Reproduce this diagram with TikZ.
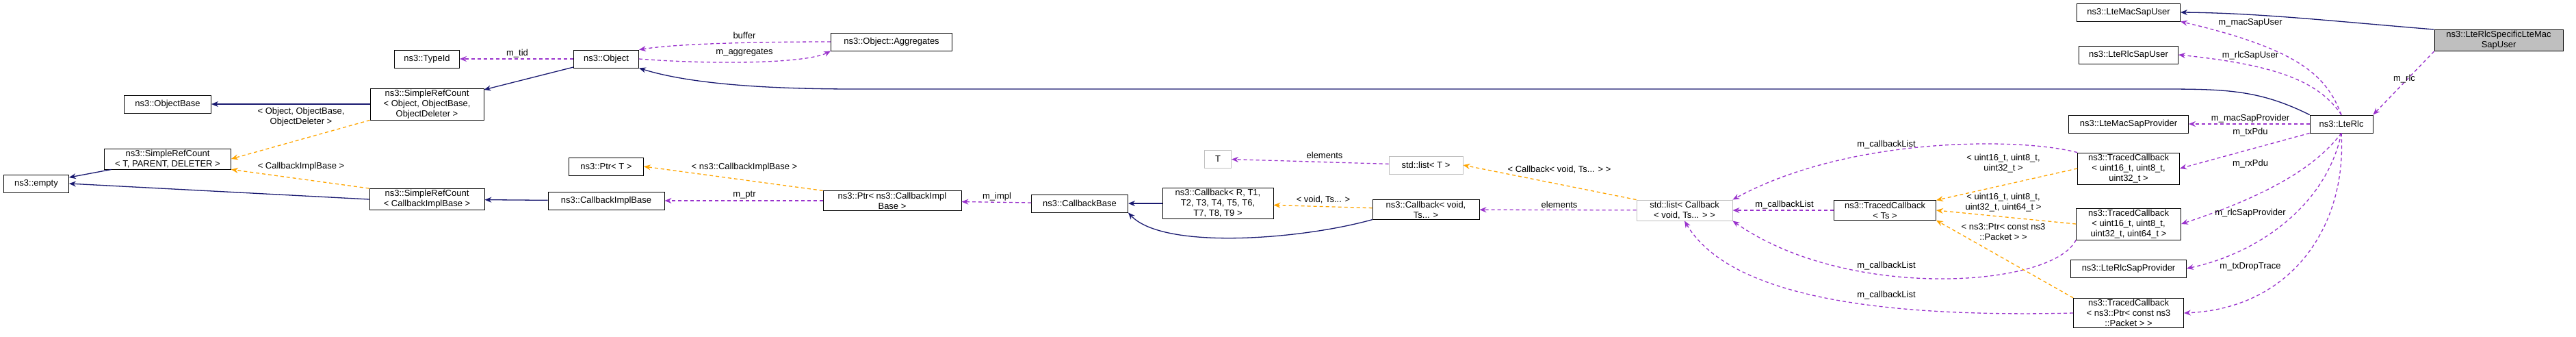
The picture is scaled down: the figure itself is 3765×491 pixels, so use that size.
\documentclass[tikz,border=0pt]{standalone}
\usepackage{fontspec}
\setmainfont{Liberation Sans}
\usetikzlibrary{arrows.meta}
\definecolor{inhblue}{RGB}{25,25,112}
\definecolor{usepurple}{RGB}{153,50,204}
\definecolor{tplorange}{RGB}{255,165,0}
\definecolor{boxgray}{RGB}{191,191,191}
\tikzset{
    x=1pt, y=-1pt,
    >={Stealth[length=10pt,width=8pt]}, % filled arrow heads
    every node/.style={font=\fontsize{13}{15}\selectfont}, % doxygen text size
    cls/.style={draw=black, thick, fill=white, align=center, inner sep=2pt, minimum height=26pt},
    ext/.style={cls, draw=boxgray}, % classes that are not documented
    inh/.style={->, inhblue, line width=1.3pt}, % inheritance
    use/.style={->, usepurple, line width=1.3pt, dash pattern=on 5pt off 4pt}, % usage
    tpl/.style={->, tplorange, line width=1.3pt, dash pattern=on 5pt off 4pt}, % template instance
    lbl/.style={align=center, inner sep=1pt},
}
\begin{document}
\begin{tikzpicture}
\useasboundingbox (0,0) rectangle (3765,491);
% classes
\node[cls, minimum width=95pt] (typeid) at (624,86) {ns3::TypeId};
\node[cls, minimum width=95pt] (object) at (886,86) {ns3::Object};
\node[cls, minimum width=177pt] (aggr) at (1303,61) {ns3::Object::Aggregates};
\node[cls, minimum width=127pt] (objbase) at (245,152) {ns3::ObjectBase};
\node[cls, minimum width=166pt] (srcobj) at (624,152) {ns3::SimpleRefCount\\< Object, ObjectBase,\\ObjectDeleter >};
\node[cls, minimum width=185pt] (srct) at (245,232) {ns3::SimpleRefCount\\< T, PARENT, DELETER >};
\node[cls, minimum width=95pt] (empty) at (53,268) {ns3::empty};
\node[cls, minimum width=168pt] (srccib) at (624,291) {ns3::SimpleRefCount\\< CallbackImplBase >};
\node[cls, minimum width=170pt] (cib) at (886,293) {ns3::CallbackImplBase};
\node[cls, minimum width=109pt] (ptrt) at (886,243) {ns3::Ptr< T >};
\node[cls, minimum width=202pt] (ptrcib) at (1304,293) {ns3::Ptr< ns3::CallbackImpl\\Base >};
\node[cls, minimum width=141pt] (cbbase) at (1578,297) {ns3::CallbackBase};
\node[cls, minimum width=162pt] (cbr) at (1780,297) {ns3::Callback< R, T1,\\T2, T3, T4, T5, T6,\\T7, T8, T9 >};
\node[cls, minimum width=156pt] (cbvoid) at (2084,306) {ns3::Callback< void,\\Ts... >};
\node[ext, minimum width=39pt] (tt) at (1780,232) {T};
\node[ext, minimum width=108pt] (listt) at (2084,241) {std::list< T >};
\node[ext, minimum width=140pt] (listcb) at (2462,307) {std::list< Callback\\< void, Ts... > >};
\node[cls, minimum width=151pt] (macuser) at (3111,18) {ns3::LteMacSapUser};
\node[cls, fill=boxgray, minimum width=188pt] (spec) at (3652,59) {ns3::LteRlcSpecificLteMac\\SapUser};
\node[cls, minimum width=145pt] (rlcuser) at (3111,80) {ns3::LteRlcSapUser};
\node[cls, minimum width=92pt] (rlc) at (3422,181) {ns3::LteRlc};
\node[cls, minimum width=175pt] (macprov) at (3111,181) {ns3::LteMacSapProvider};
\node[cls, minimum width=149pt] (tcthree) at (3111,246) {ns3::TracedCallback\\< uint16\_t, uint8\_t,\\uint32\_t >};
\node[cls, minimum width=149pt] (tcts) at (2755,307) {ns3::TracedCallback\\< Ts >};
\node[cls, minimum width=153pt] (tcfour) at (3111,327) {ns3::TracedCallback\\< uint16\_t, uint8\_t,\\uint32\_t, uint64\_t >};
\node[cls, minimum width=169pt] (rlcprov) at (3111,392) {ns3::LteRlcSapProvider};
\node[cls, minimum width=161pt] (tcpkt) at (3111,457) {ns3::TracedCallback\\< ns3::Ptr< const ns3\\::Packet > >};
% connectors
\draw[use] (object) -- (typeid);
\draw[use] (aggr.west) .. controls (1150,61) and (1000,62) .. (object.north east);
\draw[use] (object.east) .. controls (1050,95) and (1180,92) .. (aggr.south west);
\draw[inh] (object) -- (srcobj);
\draw[inh] (srcobj) -- (objbase);
\draw[tpl] (srcobj.south west) -- (srct.east);
\draw[inh] (srct) -- (empty);
\draw[inh] (srccib.west) -- (empty.east);
\draw[tpl] (srccib.north west) -- (srct.south east);
\draw[inh] (cib) -- (srccib);
\draw[use] (ptrcib) -- (cib);
\draw[tpl] (ptrcib.north west) -- (ptrt.east);
\draw[use] (cbbase) -- (ptrcib);
\draw[inh] (cbr) -- (cbbase);
\draw[inh] (cbvoid.south west) .. controls (1900,350) and (1700,365) .. (cbbase.south east);
\draw[tpl] (cbvoid) -- (cbr);
\draw[use] (listcb) -- (cbvoid);
\draw[tpl] (listcb.north west) -- (listt.east);
\draw[use] (listt) -- (tt);
\draw[use] (tcts) -- (listcb);
\draw[use] (tcthree.north west) .. controls (2950,200) and (2700,200) .. (listcb.north east);
\draw[use] (tcfour.south west) .. controls (3000,420) and (2700,440) .. (listcb.south east);
\draw[use] (tcpkt.west) .. controls (2700,465) and (2520,420) .. (listcb.south);
\draw[tpl] (tcthree.west) -- (tcts.north east);
\draw[tpl] (tcfour.west) -- (tcts.east);
\draw[tpl] (tcpkt.north west) -- (tcts.south east);
\draw[inh] (rlc.north west) .. controls (3300,130) and (3250,130) .. (3150,130) -- (1250,130) .. controls (1100,130) and (1000,120) .. (object.south east);
\draw[inh] (spec.north west) .. controls (3400,30) and (3300,19) .. (macuser.east);
\draw[use] (spec.south west) -- (rlc.north east);
\draw[use] (rlc.north) .. controls (3400,110) and (3360,72) .. (macuser.south east);
\draw[use] (rlc.north) .. controls (3390,120) and (3330,95) .. (rlcuser.east);
\draw[use] (rlc) -- (macprov);
\draw[use] (rlc.south west) -- (tcthree.east);
\draw[use] (rlc.south) .. controls (3380,250) and (3300,290) .. (tcfour.east);
\draw[use] (rlc.south) .. controls (3400,300) and (3300,370) .. (rlcprov.east);
\draw[use] (rlc.south) .. controls (3430,330) and (3350,450) .. (tcpkt.east);
% labels
\node[lbl] (lmtid) at (756,78) {m\_tid};
\node[lbl] (lbuffer) at (1088,52) {buffer};
\node[lbl] (laggr) at (1088,77) {m\_aggregates};
\node[lbl] (lsrcobj) at (440,171) {< Object, ObjectBase,\\ObjectDeleter >};
\node[lbl] (lsrccib) at (440,243) {< CallbackImplBase >};
\node[lbl] (lptrcib) at (1088,244) {< ns3::CallbackImplBase >};
\node[lbl] (lmptr) at (1088,285) {m\_ptr};
\node[lbl] (lmimpl) at (1457,287) {m\_impl};
\node[lbl] (lelemt) at (1936,227) {elements};
\node[lbl] (lvoid) at (1934,292) {< void, Ts... >};
\node[lbl] (lelemcb) at (2279,299) {elements};
\node[lbl] (llistcb) at (2279,248) {< Callback< void, Ts... > >};
\node[lbl] (lmacuser) at (3289,33) {m\_macSapUser};
\node[lbl] (lrlcuser) at (3289,81) {m\_rlcSapUser};
\node[lbl] (lrlc) at (3514,115) {m\_rlc};
\node[lbl] (lmacprov) at (3289,173) {m\_macSapProvider};
\node[lbl] (ltxpdu) at (3289,193) {m\_txPdu};
\node[lbl] (lcbone) at (2757,211) {m\_callbackList};
\node[lbl] (ltcthree) at (2928,239) {< uint16\_t, uint8\_t,\\uint32\_t >};
\node[lbl] (lrxpdu) at (3289,239) {m\_rxPdu};
\node[lbl] (lcbtwo) at (2608,299) {m\_callbackList};
\node[lbl] (ltcfour) at (2928,296) {< uint16\_t, uint8\_t,\\uint32\_t, uint64\_t >};
\node[lbl] (lrlcprov) at (3289,311) {m\_rlcSapProvider};
\node[lbl] (ltcpkt) at (2928,339) {< ns3::Ptr< const ns3\\::Packet > >};
\node[lbl] (lcbthree) at (2757,388) {m\_callbackList};
\node[lbl] (ltxdrop) at (3289,389) {m\_txDropTrace};
\node[lbl] (lcbfour) at (2757,431) {m\_callbackList};
\end{tikzpicture}
\end{document}
